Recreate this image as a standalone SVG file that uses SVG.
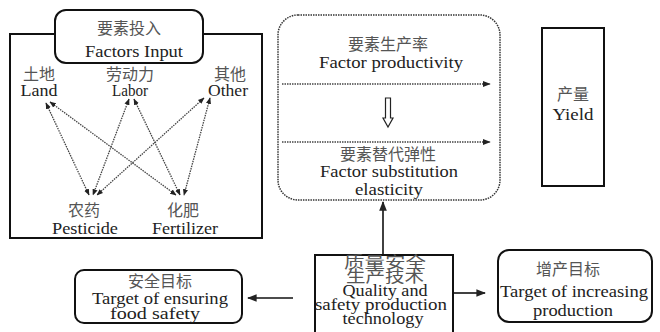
<svg xmlns="http://www.w3.org/2000/svg" width="660" height="332" viewBox="0 0 660 332">
<defs>
<style>
.en{font-family:"Liberation Serif","Times New Roman",serif;font-size:17px;fill:#222;text-anchor:middle}
.zh{font-family:"Liberation Serif","Noto Sans CJK SC",sans-serif;font-size:16px;fill:#555;text-anchor:middle}
.box{fill:#fff;stroke:#111;stroke-width:2}
.dot{stroke:#444;stroke-width:1.3;stroke-dasharray:1.5 1;fill:none}
.solid{stroke:#111;stroke-width:1.6;fill:none}
</style>
<marker id="ah" viewBox="0 0 10 10" refX="9" refY="5" markerWidth="6" markerHeight="6" orient="auto-start-reverse">
<path d="M0,1 L10,5 L0,9 Z" fill="#222"/>
</marker>
<marker id="ahs" viewBox="0 0 10 10" refX="9" refY="5" markerWidth="5" markerHeight="5" orient="auto-start-reverse">
<path d="M0,1 L10,5 L0,9 Z" fill="#222"/>
</marker>
</defs>
<rect width="660" height="332" fill="#fff"/>

<g id="factors-input">
<rect class="box" x="10" y="34" width="252" height="204"/>
<rect class="box" x="55" y="10" width="148" height="53" rx="11" stroke-width="2.5"/>
<text class="zh" x="129" y="34" font-size="17">要素投入</text>
<text class="en" x="134" y="57" textLength="98" lengthAdjust="spacingAndGlyphs">Factors Input</text>
</g>
<g id="land">
<text class="zh" x="39" y="80">土地</text>
<text class="en" x="39" y="96" textLength="37" lengthAdjust="spacingAndGlyphs">Land</text>
</g>
<g id="labor">
<text class="zh" x="130" y="80">劳动力</text>
<text class="en" x="130" y="96" textLength="36" lengthAdjust="spacingAndGlyphs">Labor</text>
</g>
<g id="other">
<text class="zh" x="230" y="80">其他</text>
<text class="en" x="228" y="96" textLength="40" lengthAdjust="spacingAndGlyphs">Other</text>
</g>
<g id="pesticide">
<text class="zh" x="84" y="216">农药</text>
<text class="en" x="85" y="234" textLength="66" lengthAdjust="spacingAndGlyphs">Pesticide</text>
</g>
<g id="fertilizer">
<text class="zh" x="183" y="216">化肥</text>
<text class="en" x="185" y="234" textLength="66" lengthAdjust="spacingAndGlyphs">Fertilizer</text>
</g>

<g id="factor-box">
<rect x="278" y="15" width="222" height="185" rx="20" fill="none" stroke="#333" stroke-width="1.5" stroke-dasharray="1.5 1"/>
<text class="zh" x="388" y="50" font-size="17">要素生产率</text>
<text class="en" x="391" y="68" textLength="144" lengthAdjust="spacingAndGlyphs">Factor productivity</text>
<text class="zh" x="388" y="160" font-size="17">要素替代弹性</text>
<text class="en" x="389" y="177" textLength="138" lengthAdjust="spacingAndGlyphs">Factor substitution</text>
<text class="en" x="389" y="195" textLength="68" lengthAdjust="spacingAndGlyphs">elasticity</text>
<path d="M385.5,98 L390.5,98 L390.5,118 L393,118 L388,127 L383,118 L385.5,118 Z" fill="#fff" stroke="#222" stroke-width="1.2"/>
</g>

<g id="yield">
<rect class="box" x="542" y="28" width="62" height="158" stroke-width="2.5"/>
<text class="zh" x="573" y="100" font-size="17">产量</text>
<text class="en" x="573" y="120" textLength="41" lengthAdjust="spacingAndGlyphs">Yield</text>
</g>

<g id="safety-target">
<rect class="box" x="75" y="270" width="167" height="53" rx="9"/>
<text class="zh" x="160" y="287">安全目标</text>
<text class="en" x="160" y="304" font-size="16" textLength="136" lengthAdjust="spacingAndGlyphs">Target of ensuring</text>
<text class="en" x="155" y="319" font-size="16" textLength="90" lengthAdjust="spacingAndGlyphs">food safety</text>
</g>

<g id="technology">
<rect class="box" x="315" y="255" width="138" height="82"/>
<text class="zh" x="385" y="268" font-size="12.5" textLength="82" lengthAdjust="spacingAndGlyphs">质量安全</text>
<text class="zh" x="385" y="282" font-size="12.5" textLength="78" lengthAdjust="spacingAndGlyphs">生产技术</text>
<text class="en" x="385" y="296" font-size="12.5" textLength="85" lengthAdjust="spacingAndGlyphs">Quality and</text>
<text class="en" x="381" y="310" font-size="12.5" textLength="132" lengthAdjust="spacingAndGlyphs">safety production</text>
<text class="en" x="383" y="324" font-size="12.5" textLength="81" lengthAdjust="spacingAndGlyphs">technology</text>
</g>

<g id="production-target">
<rect class="box" x="498" y="250" width="154" height="72" rx="11"/>
<text class="zh" x="568" y="275">增产目标</text>
<text class="en" x="574" y="297" textLength="148" lengthAdjust="spacingAndGlyphs">Target of increasing</text>
<text class="en" x="573" y="316" textLength="80" lengthAdjust="spacingAndGlyphs">production</text>
</g>

<g id="connectors">
<line class="dot" x1="46" y1="103" x2="89" y2="195" marker-start="url(#ahs)" marker-end="url(#ahs)"/>
<line class="dot" x1="50" y1="102" x2="176" y2="195" marker-start="url(#ahs)" marker-end="url(#ahs)"/>
<line class="dot" x1="129" y1="99" x2="93" y2="195" marker-start="url(#ahs)" marker-end="url(#ahs)"/>
<line class="dot" x1="134" y1="99" x2="180" y2="195" marker-start="url(#ahs)" marker-end="url(#ahs)"/>
<line class="dot" x1="204" y1="98" x2="97" y2="195" marker-start="url(#ahs)" marker-end="url(#ahs)"/>
<line class="dot" x1="210" y1="98" x2="184" y2="195" marker-start="url(#ahs)" marker-end="url(#ahs)"/>
<line class="dot" x1="282" y1="84" x2="490" y2="84" marker-end="url(#ah)"/>
<line class="dot" x1="282" y1="142" x2="490" y2="142" marker-end="url(#ah)"/>
<line class="solid" x1="383" y1="255" x2="383" y2="202" marker-end="url(#ah)"/>
<line class="solid" x1="293" y1="298" x2="248" y2="298" marker-end="url(#ah)"/>
<line class="solid" x1="453" y1="293" x2="485" y2="293" marker-end="url(#ah)"/>
</g>
</svg>
